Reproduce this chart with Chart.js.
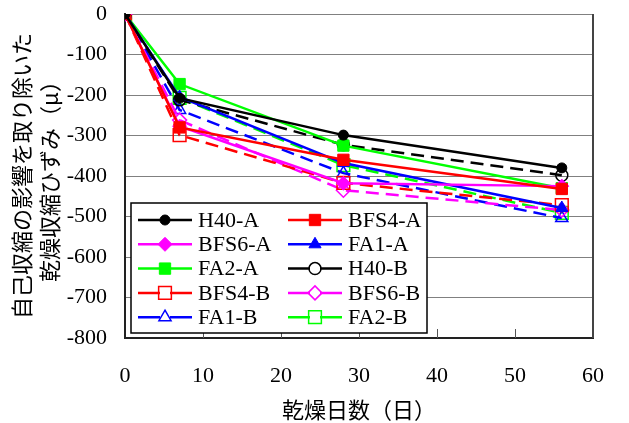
<!DOCTYPE html>
<html>
<head>
<meta charset="utf-8">
<script src="https://cdn.jsdelivr.net/npm/chart.js@4.4.0/dist/chart.umd.min.js"></script>
<style>
  html, body { margin: 0; padding: 0; background: #fff; }
  #wrap { width: 629px; height: 423px; }
</style>
</head>
<body>
<div id="wrap"><canvas id="dryChart" width="629" height="423"></canvas></div>
<script>
// days of drying
var days = [0, 7, 28, 56];
var xTicks = [0, 10, 20, 30, 40, 50, 60];
var yTicks = [0, -100, -200, -300, -400, -500, -600, -700, -800];

// shrinkage values (µ) at each day
var h40A  = [0, -208, -299, -380];
var bfs4A = [0, -280, -360, -432];
var bfs6A = [0, -277, -418, -425];
var fa1A  = [0, -205, -368, -479];
var fa2A  = [0, -173, -325, -430];
var h40B  = [0, -212, -323, -398];
var bfs4B = [0, -299, -417, -472];
var bfs6B = [0, -262, -435, -484];
var fa1B  = [0, -237, -393, -504];
var fa2B  = [0, -207, -373, -491];

var seriesNames = ['H40-A', 'BFS4-A', 'BFS6-A', 'FA1-A', 'FA2-A',
                   'H40-B', 'BFS4-B', 'BFS6-B', 'FA1-B', 'FA2-B'];

var serif = '"Liberation Serif", "Times New Roman", serif';
var jp = '"Noto Sans CJK JP", "Noto Sans", sans-serif';

function points(values){
    return values.map(function(v, i){
        return {x: days[i], y: v};
    });
}

function makeSet(name, values, color, style, radius, open){
    return {
        label: name,
        data: points(values),
        borderColor: color,
        backgroundColor: color,
        borderWidth: 2.5,
        borderDash: open ? [13, 7] : [],
        pointStyle: style,
        pointRadius: radius,
        pointHoverRadius: radius,
        pointBorderColor: color,
        pointBackgroundColor: open ? 'rgba(0,0,0,0)' : color,
        pointBorderWidth: open ? 1.5 : 1,
        tension: 0,
        fill: false
    };
}

const datasets = [
    makeSet(seriesNames[0], h40A,  '#000000', 'circle',   5, false),
    makeSet(seriesNames[1], bfs4A, '#FF0000', 'rect',     8, false),
    makeSet(seriesNames[2], bfs6A, '#FF00FF', 'rectRot',  7, false),
    makeSet(seriesNames[3], fa1A,  '#0000FF', 'triangle', 7, false),
    makeSet(seriesNames[4], fa2A,  '#00FF00', 'rect',     8, false),
    makeSet(seriesNames[5], h40B,  '#000000', 'circle',   6, true),
    makeSet(seriesNames[6], bfs4B, '#FF0000', 'rect',     9, true),
    makeSet(seriesNames[7], bfs6B, '#FF00FF', 'rectRot',  7, true),
    makeSet(seriesNames[8], fa1B,  '#0000FF', 'triangle', 7, true),
    makeSet(seriesNames[9], fa2B,  '#00FF00', 'rect',     9, true)
];

// frame + inward x ticks
const framePlugin = {
    id: 'framePlugin',
    afterDraw: function(chart){
        const ctx = chart.ctx;
        const a = chart.chartArea;
        const xs = chart.scales.x;
        ctx.save();
        ctx.strokeStyle = '#555';
        ctx.lineWidth = 1;
        xTicks.forEach(function(t){
            if (t === xTicks[0] || t === xTicks[xTicks.length - 1]) return;
            const px = Math.round(xs.getPixelForValue(t)) + 0.5;
            ctx.beginPath();
            ctx.moveTo(px, a.bottom);
            ctx.lineTo(px, a.bottom - 9);
            ctx.stroke();
        });
        ctx.strokeStyle = '#444';
        ctx.lineWidth = 2;
        ctx.beginPath();
        ctx.moveTo(a.right, a.top);
        ctx.lineTo(a.right, a.bottom);
        ctx.stroke();
        ctx.restore();
    }
};

// legend box drawn inside the plot
const boxLegend = {
    id: 'boxLegend',
    afterDraw: function(chart){
        const ctx = chart.ctx;
        const left = 131, top = 203, w = 296, h = 130;
        ctx.save();
        ctx.fillStyle = '#fff';
        ctx.fillRect(left, top, w, h);
        ctx.strokeStyle = '#000';
        ctx.lineWidth = 1.5;
        ctx.strokeRect(left, top, w, h);
        chart.data.datasets.forEach(function(ds, i){
            const col = i % 2, row = Math.floor(i / 2);
            const x0 = col === 0 ? 138 : 288;
            const y = 220 + row * 24.3;
            ctx.strokeStyle = ds.borderColor;
            ctx.lineWidth = 2.5;
            ctx.setLineDash(ds.borderDash.length ? [22, 10] : []);
            ctx.beginPath();
            ctx.moveTo(x0, y);
            ctx.lineTo(x0 + 54, y);
            ctx.stroke();
            ctx.setLineDash([]);
            ctx.fillStyle = ds.pointBackgroundColor;
            ctx.strokeStyle = ds.pointBorderColor;
            ctx.lineWidth = ds.pointBorderWidth;
            Chart.helpers.drawPoint(ctx, {
                pointStyle: ds.pointStyle,
                radius: ds.pointRadius,
                borderWidth: ds.pointBorderWidth,
                rotation: 0
            }, x0 + 27, y);
            ctx.fillStyle = '#000';
            ctx.font = '22px ' + serif;
            ctx.textBaseline = 'middle';
            ctx.textAlign = 'left';
            ctx.fillText(ds.label, x0 + 60, y + 1);
        });
        ctx.restore();
    }
};

const config = {
    type: 'line',
    data: { datasets: datasets },
    options: {
        responsive: false,
        animation: false,
        events: [],
        layout: { padding: { top: 14, right: 28, left: 0, bottom: 0 } },
        plugins: {
            legend: { display: false },
            tooltip: { enabled: false },
            title: { display: false }
        },
        scales: {
            x: {
                type: 'linear',
                min: 0,
                max: 60,
                afterFit: function(s){ s.height = 85; },
                afterBuildTicks: function(s){ s.ticks = xTicks.map(function(v){ return {value: v}; }); },
                grid: { display: true, drawOnChartArea: false, drawTicks: false },
                border: { color: '#222', width: 2 },
                ticks: { color: '#000', padding: 25, font: { family: serif, size: 22 } },
                title: {
                    display: true,
                    text: '乾燥日数（日）',
                    color: '#000',
                    padding: { top: 0, bottom: 0 },
                    font: { family: jp, size: 22, lineHeight: 1.2 }
                }
            },
            y: {
                type: 'linear',
                min: -800,
                max: 0,
                afterFit: function(s){
                    s.width = 125;
                    s.paddingTop = 0;
                    s.paddingBottom = 0;
                },
                afterBuildTicks: function(s){ s.ticks = yTicks.map(function(v){ return {value: v}; }); },
                grid: { color: '#808080', lineWidth: 1, drawTicks: false },
                border: { color: '#222', width: 2 },
                ticks: { color: '#000', padding: 18, font: { family: serif, size: 22 } },
                title: {
                    display: true,
                    text: ['自己収縮の影響を取り除いた', '乾燥収縮ひずみ（μ）'],
                    color: '#000',
                    padding: { top: 8, bottom: 0 },
                    font: { family: jp, size: 22, lineHeight: '28px' }
                }
            }
        }
    },
    plugins: [framePlugin, boxLegend]
};

const dryChart = new Chart(document.getElementById('dryChart'), config);
</script>
</body>
</html>
